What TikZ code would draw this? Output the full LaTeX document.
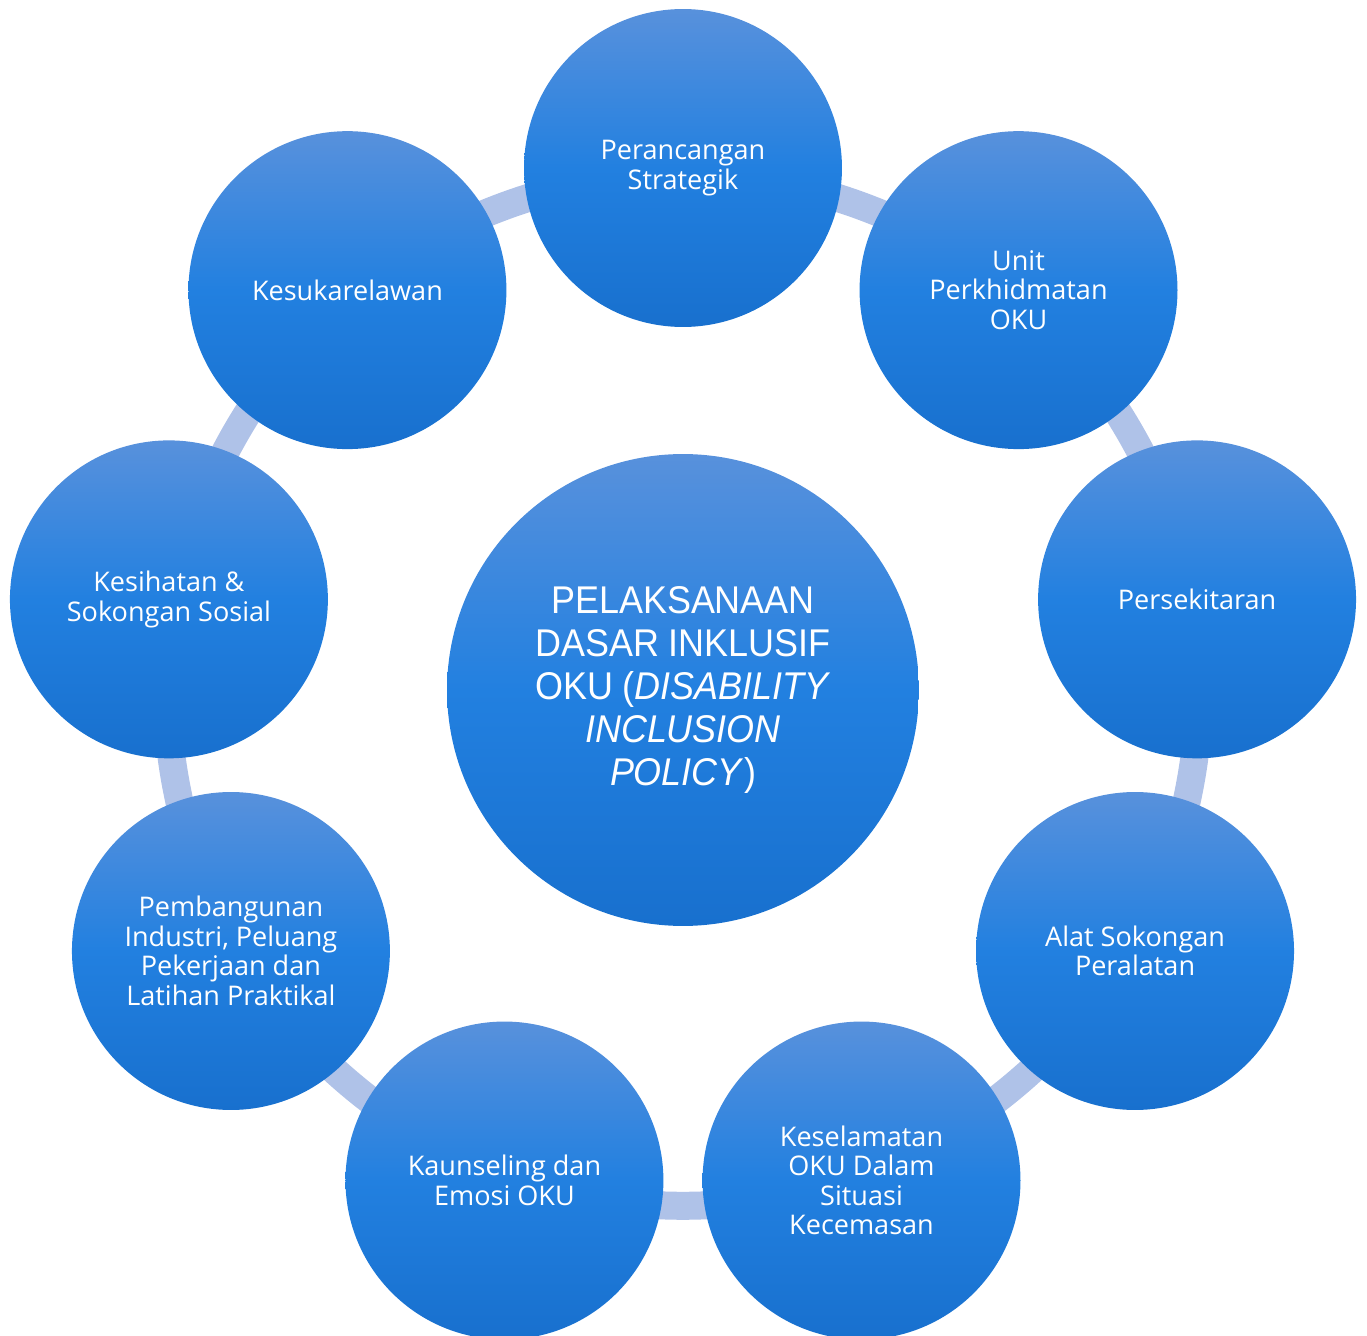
\documentclass[tikz,border=0pt]{standalone}
\usepackage{fontspec}
\setsansfont{Open Sans}
\newfontfamily\hubfont[FakeStretch=0.93]{Liberation Sans}
\usetikzlibrary{backgrounds}

\definecolor{ringblue}{HTML}{AFC2E8}
\definecolor{topblue}{HTML}{5891DC}
\definecolor{midblue}{HTML}{2280E0}
\definecolor{botblue}{HTML}{1870CE}

\tikzset{
  spoke/.style={circle, inner sep=0pt, minimum size=6.36cm, align=center,
    text=white, top color=topblue, bottom color=botblue, middle color=midblue,
    font=\sffamily\fontsize{15.4}{16.8}\selectfont},
  hub/.style={spoke, minimum size=9.44cm,
    font=\hubfont\fontsize{22}{24.4}\selectfont},
  ring/.style={draw=ringblue, line width=0.56cm}
}

\begin{document}
\begin{tikzpicture}[x=0.02cm,y=0.02cm]
        \useasboundingbox (-683,-646) rectangle (684,690);

        % Bulatan tengah
        \node[hub] (dasar) at (0,0) {PELAKSANAAN\\DASAR INKLUSIF\\OKU (\textit{DISABILITY}\\\textit{INCLUSION}\\\textit{POLICY})};

        % Bulatan di sekeliling
        \foreach \i/\txt in {1/{Perancangan\\Strategik},
                             2/{Unit\\Perkhidmatan\\OKU},
                             3/{Persekitaran},
                             4/{Alat Sokongan\\Peralatan},
                             5/{Keselamatan\\OKU Dalam\\Situasi\\Kecemasan},
                             6/{Kaunseling dan\\Emosi OKU},
                             7/{Pembangunan\\Industri, Peluang\\Pekerjaan dan\\Latihan Praktikal},
                             8/{Kesihatan \&\\Sokongan Sosial},
                             9/{Kesukarelawan}}
            \node[spoke] (n\i) at ({130-40*\i}:522) {\txt};

        % Gelang penghubung
        \begin{scope}[on background layer]
            \foreach \i [remember=\i as \j (initially 9)] in {1,...,9}
                \draw[ring] (n\j.center) to[bend left=14] (n\i.center);
        \end{scope}
    \end{tikzpicture}
\end{document}
